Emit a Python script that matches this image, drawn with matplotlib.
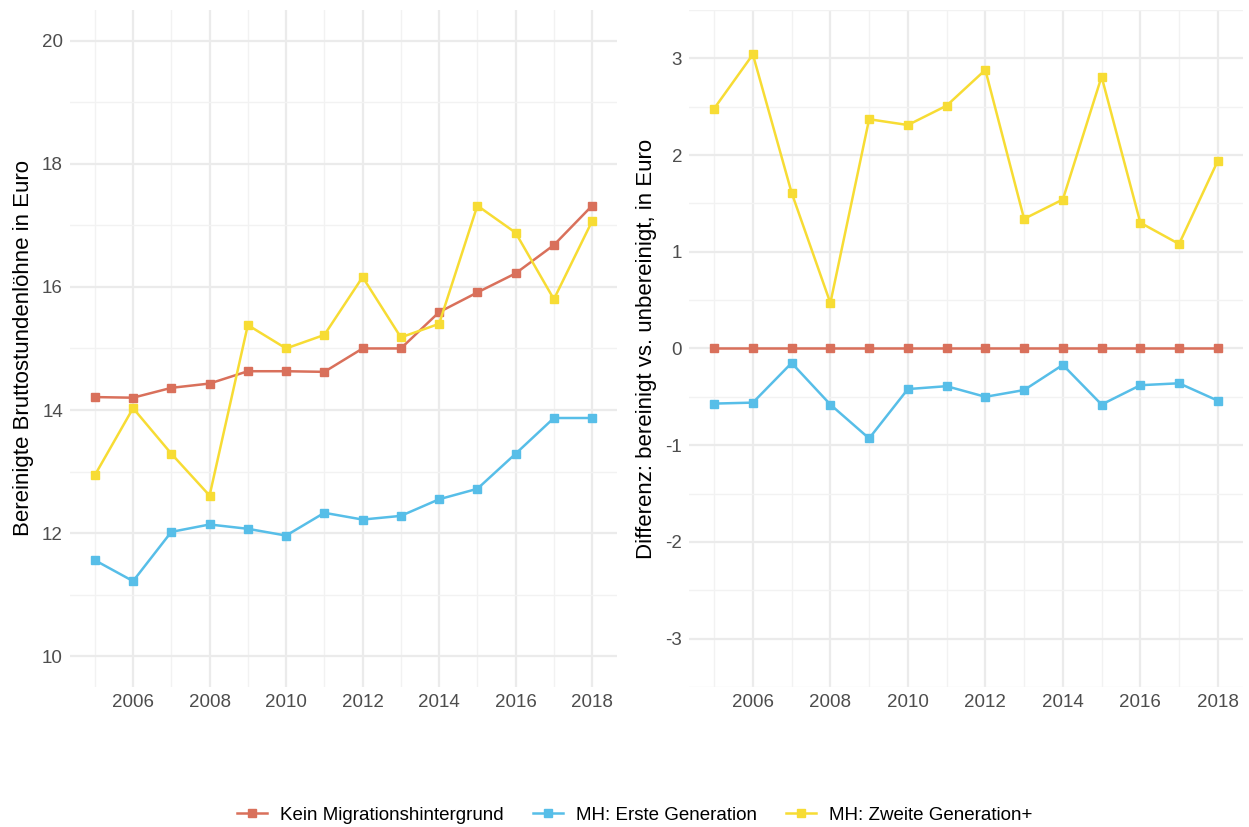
import matplotlib
matplotlib.use("Agg")
import matplotlib.pyplot as plt
from matplotlib.ticker import MultipleLocator
from matplotlib.lines import Line2D

plt.rcParams['font.family'] = ['Liberation Sans', 'DejaVu Sans']
plt.rcParams['axes.unicode_minus'] = False

# data
years = list(range(2005, 2019))

# left panel: bereinigte Bruttostundenloehne
lohn_kein = [14.21, 14.20, 14.36, 14.43, 14.63, 14.63, 14.62, 15.00, 15.00, 15.59, 15.91, 16.22, 16.68, 17.32]
lohn_erste = [11.56, 11.22, 12.02, 12.14, 12.07, 11.96, 12.33, 12.22, 12.28, 12.55, 12.72, 13.29, 13.87, 13.87]
lohn_zweite = [12.94, 14.03, 13.29, 12.61, 15.38, 15.00, 15.22, 16.16, 15.18, 15.40, 17.32, 16.88, 15.80, 17.07]

# right panel: Differenz bereinigt vs. unbereinigt
diff_kein = [0.0] * 14
diff_erste = [-0.57, -0.56, -0.15, -0.58, -0.93, -0.42, -0.39, -0.50, -0.43, -0.17, -0.58, -0.38, -0.36, -0.54]
diff_zweite = [2.48, 3.04, 1.61, 0.47, 2.37, 2.31, 2.51, 2.88, 1.34, 1.54, 2.81, 1.30, 1.08, 1.94]

labels = ["Kein Migrationshintergrund", "MH: Erste Generation", "MH: Zweite Generation+"]
colors = ["#D9705B", "#57BEE8", "#F7DC34"]

fig = plt.figure(figsize=(12.49, 8.27), dpi=100)
ax1 = fig.add_axes([0.056, 0.1693, 0.438, 0.8187])
ax2 = fig.add_axes([0.5516, 0.1693, 0.4436, 0.8187])


def style(ax, ylim, major, minor):
    for s in ax.spines.values():
        s.set_visible(False)
    ax.set_xlim(2004.35, 2018.65)
    ax.set_ylim(*ylim)
    ax.xaxis.set_major_locator(MultipleLocator(2))
    ax.xaxis.set_minor_locator(MultipleLocator(1))
    ax.yaxis.set_major_locator(MultipleLocator(major))
    ax.yaxis.set_minor_locator(MultipleLocator(minor))
    ax.grid(which='major', color='#EBEBEB', linewidth=1.6)
    ax.grid(which='minor', color='#F2F2F2', linewidth=1.0)
    ax.set_axisbelow(True)
    ax.tick_params(which='both', length=0, labelsize=13.5, labelcolor='#4D4D4D', pad=5)


series1 = [lohn_kein, lohn_erste, lohn_zweite]
series2 = [diff_kein, diff_erste, diff_zweite]
for vals, c in zip(series1, colors):
    ax1.plot(years, vals, color=c, lw=1.8, marker='s', ms=5.8)
for vals, c in zip(series2, colors):
    ax2.plot(years, vals, color=c, lw=1.8, marker='s', ms=5.8)

style(ax1, (9.5, 20.5), 2, 1)
style(ax2, (-3.5, 3.5), 1, 0.5)
ax1.set_xticks([2006, 2008, 2010, 2012, 2014, 2016, 2018])
ax2.set_xticks([2006, 2008, 2010, 2012, 2014, 2016, 2018])
ax1.set_ylabel("Bereinigte Bruttostundenlöhne in Euro", fontsize=16, labelpad=6)
ax2.set_ylabel("Differenz: bereinigt vs. unbereinigt, in Euro", fontsize=16, labelpad=6)

handles = [Line2D([0], [0], color=c, lw=1.8, marker='s', ms=5.8) for c in colors]
fig.legend(handles, labels, loc='center', bbox_to_anchor=(0.508, 0.014), ncol=3,
           frameon=False, fontsize=13.5, handlelength=1.6, handletextpad=0.7,
           columnspacing=1.55)

fig.savefig("out.png", dpi=100)
